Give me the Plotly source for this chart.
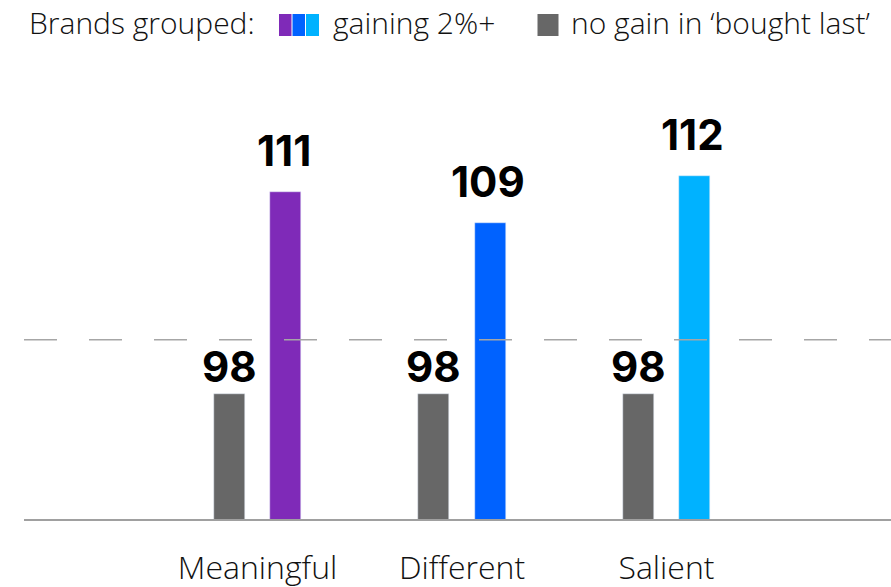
import plotly.graph_objects as go

# ---- data ----
categories = ["Meaningful", "Different", "Salient"]
no_gain_values = [98, 98, 98]
gaining_values = [111, 109, 112]
benchmark_value = 101.5
legend_title = "Brands grouped:"
legend_gain = "gaining 2%+"
legend_nogain = "no gain in \u2018bought last\u2019"

# ---- style ----
gray = "#676767"
gain_colors = ["#7F2AB8", "#0062FF", "#00B2FF"]
W, H = 891, 587
L, R, T, B = 24, 891, 60, 519
NUM_FONT = "Inter"
TEXT_FONT = "Open Sans"

def px_x(px):
    return (px - L) / (R - L)

def px_y(py):
    return (B - py) / (B - T)

bar_w = 0.1516
half_sep = 0.137

fig = go.Figure()
fig.add_trace(go.Bar(
    x=categories, y=no_gain_values, marker_color=gray, width=bar_w,
    offset=-half_sep - bar_w / 2, showlegend=False, hoverinfo="skip",
))
fig.add_trace(go.Bar(
    x=categories, y=gaining_values, marker_color=gain_colors, width=bar_w,
    offset=half_sep - bar_w / 2, showlegend=False, hoverinfo="skip",
))

annotations = []
for i, c in enumerate(categories):
    annotations.append(dict(
        x=c, y=no_gain_values[i], xref="x", yref="y", text=str(no_gain_values[i]),
        showarrow=False, xanchor="center", yanchor="bottom", xshift=-half_sep * 204.5,
        yshift=0, font=dict(family=NUM_FONT, size=42, color="#000", weight="bold"),
    ))
    annotations.append(dict(
        x=c, y=gaining_values[i], xref="x", yref="y", text=str(gaining_values[i]),
        showarrow=False, xanchor="center", yanchor="bottom", xshift=half_sep * 204.5 - 2,
        yshift=14, font=dict(family=NUM_FONT, size=42, color="#000", weight="bold"),
    ))

legend_font = dict(family=TEXT_FONT, size=30, color="#111", weight=300)
annotations += [
    dict(x=px_x(27), y=px_y(23), xref="paper", yref="paper", text=legend_title,
         showarrow=False, xanchor="left", yanchor="middle", font=legend_font),
    dict(x=px_x(331), y=px_y(23), xref="paper", yref="paper", text=legend_gain,
         showarrow=False, xanchor="left", yanchor="middle", font=legend_font),
    dict(x=px_x(569), y=px_y(23), xref="paper", yref="paper", text=legend_nogain,
         showarrow=False, xanchor="left", yanchor="middle", font=legend_font),
]

shapes = [
    dict(type="line", xref="paper", yref="y", x0=0, x1=1, y0=benchmark_value, y1=benchmark_value,
         line=dict(color="#A6A6A6", width=1.5, dash="33px,32px")),
]
sq = [(279, 291.5, gain_colors[0]), (292.5, 305, gain_colors[1]), (306, 319, gain_colors[2]),
      (537.5, 558.5, gray)]
for x0, x1, col in sq:
    shapes.append(dict(type="rect", xref="paper", yref="paper", x0=px_x(x0), x1=px_x(x1),
                       y0=px_y(36), y1=px_y(14), fillcolor=col, line=dict(width=0)))

fig.update_layout(
    width=W, height=H,
    margin=dict(l=L, r=W - R, t=T, b=H - B, pad=0),
    plot_bgcolor="white", paper_bgcolor="white",
    annotations=annotations, shapes=shapes,
    bargap=0,
    xaxis=dict(type="category", range=[-1.142, 3.098], showgrid=False, zeroline=False,
               showline=True, linecolor="#A0A0A0", linewidth=1.5, ticks="",
               ticklabelstandoff=20,
               tickfont=dict(family=TEXT_FONT, size=32, color="#111", weight=300)),
    yaxis=dict(range=[90, 90 + (B - T) / 15.59], visible=False, showgrid=False, zeroline=False),
)

fig.write_html(
    "out.html",
    config={"displayModeBar": False},
    post_script="document.body.style.margin='0';document.body.style.overflow='hidden';",
)
